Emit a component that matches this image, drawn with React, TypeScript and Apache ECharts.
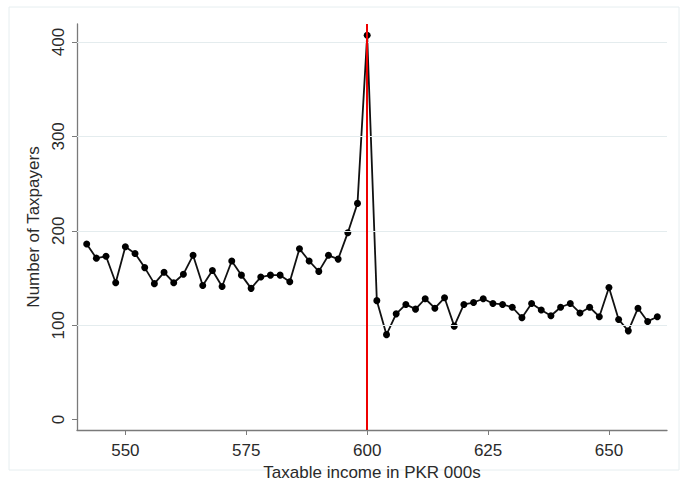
import React, { useEffect, useRef } from "react";
import * as echarts from "echarts";

const incomeBins: number[] = [
  542, 544, 546, 548, 550, 552, 554, 556, 558, 560,
  562, 564, 566, 568, 570, 572, 574, 576, 578, 580,
  582, 584, 586, 588, 590, 592, 594, 596, 598, 600,
  602, 604, 606, 608, 610, 612, 614, 616, 618, 620,
  622, 624, 626, 628, 630, 632, 634, 636, 638, 640,
  642, 644, 646, 648, 650, 652, 654, 656, 658, 660,
];

const taxpayers: number[] = [
  186, 171, 173, 145, 183, 176, 161, 144, 156, 145,
  154, 174, 142, 158, 141, 168, 153, 139, 151, 153,
  153, 146, 181, 168, 157, 174, 170, 198, 229, 407,
  126, 90, 112, 122, 117, 128, 118, 129, 99, 122,
  124, 128, 123, 122, 119, 108, 123, 116, 110, 119,
  123, 113, 119, 109, 140, 106, 94, 118, 104, 109,
];

const xTickLabels: number[] = [550, 575, 600, 625, 650];
const yTickLabels: number[] = [0, 100, 200, 300, 400];
const gridLineValues: number[] = [100, 200, 300, 400];
const thresholdIncome = 600;

export default function App() {
  const ref = useRef<HTMLDivElement>(null);

  useEffect(() => {
    if (!ref.current) return;
    const chart = echarts.init(ref.current, null, { renderer: "svg" });
    const font = "'Liberation Sans', Arial, sans-serif";
    chart.setOption({
      animation: false,
      backgroundColor: "#ffffff",
      graphic: [
        {
          type: "rect",
          shape: { x: 9, y: 7, width: 670, height: 463 },
          style: { fill: "none", stroke: "#e6eef0", lineWidth: 1 },
          silent: true,
        },
      ],
      grid: { left: 77, right: 21, top: 24, bottom: 61, containLabel: false },
      xAxis: {
        type: "value",
        min: 540,
        max: 662,
        name: "Taxable income in PKR 000s",
        nameLocation: "middle",
        nameGap: 27,
        nameTextStyle: { fontFamily: font, fontSize: 17, color: "#2a2a2a" },
        axisLine: { onZero: false, lineStyle: { color: "#7a7a7a", width: 1.3 } },
        axisTick: { show: true, length: 5, customValues: xTickLabels, lineStyle: { color: "#7a7a7a" } },
        axisLabel: { customValues: xTickLabels, margin: 12, fontFamily: font, fontSize: 17, color: "#2a2a2a" },
        splitLine: { show: false },
      },
      yAxis: {
        type: "value",
        min: -11,
        max: 419,
        name: "Number of Taxpayers",
        nameLocation: "middle",
        nameRotate: 90,
        nameGap: 30,
        nameTextStyle: { fontFamily: font, fontSize: 17, color: "#2a2a2a" },
        axisLine: { show: true, lineStyle: { color: "#7a7a7a", width: 1.3 } },
        axisTick: { show: true, length: 5, customValues: yTickLabels, lineStyle: { color: "#7a7a7a" } },
        axisLabel: { customValues: yTickLabels, rotate: 90, margin: 10, fontFamily: font, fontSize: 17, color: "#2a2a2a" },
        splitLine: { show: false },
      },
      series: [
        {
          type: "line",
          data: [],
          silent: true,
          z: 1,
          markLine: {
            silent: true,
            symbol: "none",
            label: { show: false },
            lineStyle: { color: "#e4ecee", width: 1, type: "solid" },
            data: gridLineValues.map((v) => ({ yAxis: v })),
          },
        },
        {
          type: "line",
          data: incomeBins.map((x, i) => [x, taxpayers[i]]),
          symbol: "circle",
          symbolSize: 7,
          showSymbol: true,
          itemStyle: { color: "#000" },
          lineStyle: { color: "#111", width: 1.8 },
          z: 3,
          markLine: {
            silent: true,
            symbol: "none",
            label: { show: false },
            lineStyle: { color: "#ee0000", width: 2, type: "solid" },
            data: [{ xAxis: thresholdIncome }],
          },
        },
      ],
    });
    return () => chart.dispose();
  }, []);

  return (
    <div
      ref={ref}
      style={{ position: "fixed", left: 0, top: 0, width: 688, height: 491 }}
    />
  );
}
